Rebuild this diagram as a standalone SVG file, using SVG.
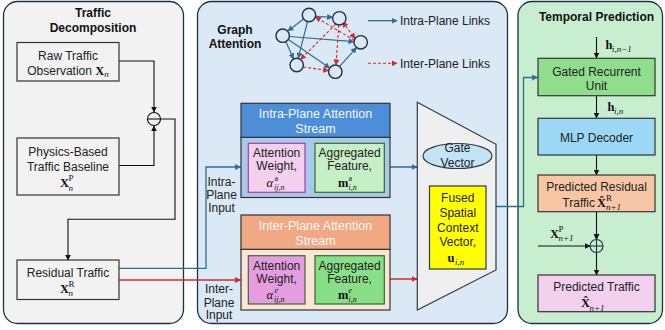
<svg xmlns="http://www.w3.org/2000/svg" width="665" height="330" viewBox="0 0 665 330">
  <style>
    .panel { stroke: #1d3347; stroke-width: 1.3; }
    .box { stroke: #333; stroke-width: 1.2; }
    .t { font-family: "Liberation Sans", Arial, sans-serif; font-size: 12px; fill: #222; text-anchor: middle; }
    .tl { font-family: "Liberation Sans", Arial, sans-serif; font-size: 12px; fill: #222; }
    .title { font-family: "Liberation Sans", Arial, sans-serif; font-size: 12px; font-weight: bold; fill: #111; text-anchor: middle; }
    .hdr { font-family: "Liberation Sans", Arial, sans-serif; font-size: 12.5px; fill: #f4f7fb; text-anchor: middle; }
    .mb { font-family: "Liberation Serif", "Times New Roman", serif; font-weight: bold; font-size: 12.5px; fill: #111; }
    .mi { font-family: "Liberation Serif", "Times New Roman", serif; font-style: italic; font-size: 12.5px; fill: #111; }
    .ms { font-family: "Liberation Serif", "Times New Roman", serif; font-size: 9px; fill: #111; }
    .msi { font-family: "Liberation Serif", "Times New Roman", serif; font-style: italic; font-size: 9px; fill: #111; }
    .sm { font-size: 8px; }
    .blue { stroke: #2e6e96; stroke-width: 1.3; fill: none; }
    .red { stroke: #d42a2a; stroke-width: 1.3; fill: none; }
    .blk { stroke: #111; stroke-width: 1.1; fill: none; }
    .gnode { fill: #dbe8f5; stroke: #1d3347; stroke-width: 1.4; }
    .gblue { stroke: #2e6e96; stroke-width: 1.2; fill: none; marker-end: url(#ab); }
    .gred { stroke: #d42a2a; stroke-width: 1.1; fill: none; stroke-dasharray: 3 2; }
  </style>
  <defs>
    <marker id="ab" viewBox="0 0 10 10" refX="9" refY="5" markerWidth="6" markerHeight="6" markerUnits="userSpaceOnUse" orient="auto-start-reverse">
      <path d="M0,0 L10,5 L0,10 z" fill="#2e6e96"/>
    </marker>
    <marker id="ar" viewBox="0 0 10 10" refX="9" refY="5" markerWidth="6" markerHeight="6" markerUnits="userSpaceOnUse" orient="auto-start-reverse">
      <path d="M0,0 L10,5 L0,10 z" fill="#d42a2a"/>
    </marker>
    <marker id="ak" viewBox="0 0 10 10" refX="9" refY="5" markerWidth="6" markerHeight="6" markerUnits="userSpaceOnUse" orient="auto-start-reverse">
      <path d="M0,0 L10,5 L0,10 z" fill="#111"/>
    </marker>
  </defs>

  <!-- Panels -->
  <g id="panel-decomposition">
    <rect class="panel" x="3.5" y="1.5" width="180" height="322" rx="14" fill="#f2f2f2"/>
    <text class="title" x="93" y="17">Traffic</text>
    <text class="title" x="93" y="31.5">Decomposition</text>
  </g>
  <g id="panel-attention">
    <rect class="panel" x="197.5" y="1.5" width="310" height="322" rx="14" fill="#dbe8f5"/>
    <text class="title" x="235" y="34">Graph</text>
    <text class="title" x="235" y="48">Attention</text>
  </g>
  <g id="panel-temporal">
    <rect class="panel" x="518" y="1.5" width="144.5" height="322" rx="14" fill="#c8eed0"/>
    <text class="title" x="596.5" y="20.5">Temporal Prediction</text>
  </g>

  <!-- Example graph with intra- and inter-plane links -->
  <g id="graph-example">
    <line class="gblue" x1="315.5" y1="16.3" x2="332.6" y2="17.3"/>
    <line class="gblue" x1="303.5" y1="19" x2="288" y2="31"/>
    <line class="gblue" x1="307.5" y1="21.6" x2="298.2" y2="58.2"/>
    <line class="gblue" x1="285.8" y1="41.6" x2="293.5" y2="58.8"/>
    <line class="gblue" x1="289.4" y1="36.5" x2="353.9" y2="41.6"/>
    <line class="gblue" x1="288.4" y1="39.5" x2="329.6" y2="68"/>
    <line class="gblue" x1="339.6" y1="66.3" x2="356.4" y2="47.8"/>
    <line class="gred" x1="342.5" y1="21.8" x2="355" y2="38.5" marker-start="url(#ar)" marker-end="url(#ar)"/>
    <line class="gred" x1="354.3" y1="40.3" x2="315.5" y2="17" marker-end="url(#ar)"/>
    <line class="gred" x1="335.8" y1="24" x2="300.6" y2="59.3" marker-end="url(#ar)"/>
    <line class="gred" x1="338.8" y1="25" x2="336" y2="64.8" marker-end="url(#ar)"/>
    <line class="gred" x1="303.2" y1="67" x2="328.5" y2="70.6" marker-end="url(#ar)"/>
    <circle class="gnode" cx="309" cy="15" r="6.7"/>
    <circle class="gnode" cx="339.3" cy="18.3" r="6.7"/>
    <circle class="gnode" cx="282.7" cy="35.7" r="6.7"/>
    <circle class="gnode" cx="360.7" cy="42.3" r="6.7"/>
    <circle class="gnode" cx="296.7" cy="65" r="6.7"/>
    <circle class="gnode" cx="335.3" cy="71.7" r="6.7"/>
  </g>
  <g id="graph-legend">
    <line class="blue" x1="368" y1="20.7" x2="397" y2="20.7" marker-end="url(#ab)"/>
    <text class="tl" x="400" y="25">Intra-Plane Links</text>
    <line class="gred" x1="368" y1="63.3" x2="397" y2="63.3" marker-end="url(#ar)"/>
    <text class="tl" x="400" y="67.5">Inter-Plane Links</text>
  </g>

  <!-- Connectors -->
  <g id="connectors">
    <polyline class="blk" points="119,61 154,61 154,112" marker-end="url(#ak)"/>
    <polyline class="blk" points="119,165.5 154,165.5 154,126" marker-end="url(#ak)"/>
    <polyline class="blk" points="160.5,119 175,119 175,219.3 68,219.3 68,260" marker-end="url(#ak)"/>
    <polyline class="blue" points="119,268.3 206,268.3 206,167 240.5,167" marker-end="url(#ab)"/>
    <polyline class="red" points="119,280 240.5,280" marker-end="url(#ar)"/>
    <line class="blue" x1="305" y1="167" x2="314.5" y2="167" marker-end="url(#ab)"/>
    <line class="red" x1="305" y1="279.5" x2="314.5" y2="279.5" marker-end="url(#ar)"/>
    <line class="blue" x1="384" y1="167" x2="417" y2="167" marker-end="url(#ab)"/>
    <line class="red" x1="384" y1="279" x2="417" y2="279" marker-end="url(#ar)"/>
    <line class="blk" x1="457.5" y1="168.5" x2="457.5" y2="185.5" marker-end="url(#ak)"/>
    <polyline class="blue" points="496,206.5 523.5,206.5 523.5,77.5 537.5,77.5" marker-end="url(#ab)"/>
    <line class="blk" x1="596.5" y1="37" x2="596.5" y2="58" marker-end="url(#ak)"/>
    <line class="blk" x1="596.5" y1="96" x2="596.5" y2="118" marker-end="url(#ak)"/>
    <line class="blk" x1="596.5" y1="155" x2="596.5" y2="175" marker-end="url(#ak)"/>
    <line class="blk" x1="596.5" y1="212" x2="596.5" y2="239.5" marker-end="url(#ak)"/>
    <line class="blk" x1="538" y1="246" x2="590" y2="246" marker-end="url(#ak)"/>
    <line class="blk" x1="596.5" y1="252.5" x2="596.5" y2="275" marker-end="url(#ak)"/>
  </g>

  <!-- Traffic decomposition -->
  <g id="raw-traffic">
    <rect class="box" x="17" y="42.5" width="102" height="38.5" fill="#f2f2f2"/>
    <text class="t" x="68" y="59.5">Raw Traffic</text>
    <text class="t" x="68" y="74.5">Observation <tspan class="mb">X</tspan><tspan class="msi" dy="2.5">n</tspan></text>
  </g>
  <g id="subtract">
    <circle cx="154" cy="119" r="6.5" fill="#f2f2f2" stroke="#111" stroke-width="1.1"/>
    <line x1="147.5" y1="119" x2="160.5" y2="119" stroke="#111" stroke-width="1.1"/>
  </g>
  <g id="physics-baseline">
    <rect class="box" x="17" y="138" width="102" height="57" fill="#f2f2f2"/>
    <text class="t" x="68" y="156">Physics-Based</text>
    <text class="t" x="68" y="170.5">Traffic Baseline</text>
    <text class="mb" x="60" y="187">X</text>
    <text class="ms" x="68.5" y="181">P</text>
    <text class="msi" x="68.5" y="190.5">n</text>
  </g>
  <g id="residual-traffic">
    <rect class="box" x="17" y="260" width="102" height="39.5" fill="#f2f2f2"/>
    <text class="t" x="68" y="276.5">Residual Traffic</text>
    <text class="mb" x="60" y="292.5">X</text>
    <text class="ms" x="68.5" y="286.5">R</text>
    <text class="msi" x="68.5" y="296">n</text>
  </g>

  <!-- Graph attention -->
  <g id="input-labels">
    <text class="t" x="221.5" y="185.5">Intra-</text>
    <text class="t" x="221.5" y="199">Plane</text>
    <text class="t" x="221.5" y="212">Input</text>
    <text class="t" x="219" y="293">Inter-</text>
    <text class="t" x="219" y="306.5">Plane</text>
    <text class="t" x="219" y="319">Input</text>
  </g>
  <g id="intra-stream">
    <rect class="box" x="241" y="137.3" width="149" height="60.2" fill="#a9c9ea"/>
    <rect class="box" x="241" y="103.3" width="149" height="34" fill="#4c8fd8"/>
    <text class="hdr" x="315.5" y="117.5">Intra-Plane Attention</text>
    <text class="hdr" x="315.5" y="132.5">Stream</text>
  </g>
  <g id="intra-weight">
    <rect x="248.3" y="143.3" width="56.7" height="49" fill="#f2d0ee" stroke="#a6429e" stroke-width="1.2"/>
    <text class="t" x="276.6" y="157">Attention</text>
    <text class="t" x="276.6" y="170.3">Weight,</text>
    <text class="mi" x="266.5" y="186.5">α</text>
    <text class="ms sm" x="274.5" y="180.7">a</text>
    <text class="msi sm" x="274" y="189.7">ij,n</text>
  </g>
  <g id="intra-feature">
    <rect x="315" y="143.3" width="69.3" height="49" fill="#c6efc6" stroke="#2f6b2f" stroke-width="1.2"/>
    <text class="t" x="349.6" y="157">Aggregated</text>
    <text class="t" x="349.6" y="170.3">Feature,</text>
    <text class="mb" x="338" y="186.5">m</text>
    <text class="ms sm" x="348.5" y="180.7">a</text>
    <text class="msi sm" x="348.5" y="189.7">i,n</text>
  </g>
  <g id="inter-stream">
    <rect class="box" x="241" y="249.3" width="149" height="60.7" fill="#fce4d6"/>
    <rect class="box" x="241" y="215" width="149" height="34.3" fill="#f1a983"/>
    <text class="hdr" x="315.5" y="230">Inter-Plane Attention</text>
    <text class="hdr" x="315.5" y="245">Stream</text>
  </g>
  <g id="inter-weight">
    <rect x="248.3" y="255.7" width="56.7" height="48.3" fill="#e49ddf" stroke="#3a6b3a" stroke-width="1.2"/>
    <text class="t" x="276.6" y="269.5">Attention</text>
    <text class="t" x="276.6" y="282.8">Weight,</text>
    <text class="mi" x="266.5" y="299">α</text>
    <text class="msi sm" x="274.5" y="293.2">e</text>
    <text class="msi sm" x="274" y="302.2">ij,n</text>
  </g>
  <g id="inter-feature">
    <rect x="315" y="255.7" width="69.3" height="48.3" fill="#88df88" stroke="#2f6b2f" stroke-width="1.2"/>
    <text class="t" x="349.6" y="269.5">Aggregated</text>
    <text class="t" x="349.6" y="282.8">Feature,</text>
    <text class="mb" x="338" y="299">m</text>
    <text class="msi sm" x="348.5" y="293.2">e</text>
    <text class="msi sm" x="348.5" y="302.2">i,n</text>
  </g>
  <g id="fusion-gate">
    <polygon points="417.3,102.3 496,144.3 496,270 417.3,310" fill="#efefef" stroke="#2b3b4a" stroke-width="1.2"/>
  </g>
  <g id="gate-vector">
    <ellipse cx="457.5" cy="156" rx="34.5" ry="12.5" fill="#c2e4f4" stroke="#2b3b4a" stroke-width="1.2"/>
    <text class="t" x="457.5" y="152">Gate</text>
    <text class="t" x="457.5" y="166.5">Vector</text>
  </g>
  <g id="fused-context">
    <rect x="429.5" y="186" width="56.5" height="83" fill="#ffff00" stroke="#2b3b4a" stroke-width="1.2"/>
    <text class="t" x="457.8" y="202">Fused</text>
    <text class="t" x="457.8" y="216.8">Spatial</text>
    <text class="t" x="457.8" y="231.6">Context</text>
    <text class="t" x="457.8" y="246.4">Vector,</text>
    <text class="mb" x="447.5" y="262">u</text>
    <text class="msi" x="455" y="265">i,n</text>
  </g>

  <!-- Temporal prediction -->
  <g id="hidden-labels">
    <text class="mb" x="605.5" y="49">h</text>
    <text class="msi" x="612" y="52">i,n−1</text>
    <text class="mb" x="607.5" y="111">h</text>
    <text class="msi" x="614" y="114">i,n</text>
  </g>
  <g id="gru">
    <rect class="box" x="538" y="58.3" width="117" height="37.4" fill="#8ede8c"/>
    <text class="t" x="596.5" y="76">Gated Recurrent</text>
    <text class="t" x="596.5" y="90">Unit</text>
  </g>
  <g id="mlp-decoder">
    <rect class="box" x="538" y="118.3" width="117" height="36.7" fill="#9bd8f5"/>
    <text class="t" x="596.5" y="141.5">MLP Decoder</text>
  </g>
  <g id="predicted-residual">
    <rect class="box" x="538" y="175" width="117" height="36.7" fill="#f7c7a5"/>
    <text class="t" x="596.5" y="190.5">Predicted Residual</text>
    <text class="tl" x="595" y="206.5" text-anchor="end">Traffic</text>
    <text class="mb" x="597" y="206.5">X̂</text>
    <text class="ms" x="606" y="200.5">R</text>
    <text class="msi" x="606" y="210">n+1</text>
  </g>
  <g id="add">
    <circle cx="596.5" cy="246" r="6.5" fill="#c8eed0" stroke="#1d3347" stroke-width="1.1"/>
    <line x1="590" y1="246" x2="603" y2="246" stroke="#1d3347" stroke-width="1.1"/>
    <line x1="596.5" y1="239.5" x2="596.5" y2="252.5" stroke="#1d3347" stroke-width="1.1"/>
    <text class="mb" x="550" y="237.5">X</text>
    <text class="ms" x="558.5" y="231.5">P</text>
    <text class="msi" x="558.5" y="241">n+1</text>
  </g>
  <g id="predicted-traffic">
    <rect class="box" x="538" y="275" width="117" height="36.7" fill="#f2d0ee"/>
    <text class="t" x="596.5" y="290.5">Predicted Traffic</text>
    <text class="mb" x="581" y="307">X̂</text>
    <text class="msi" x="589.5" y="310.5">n+1</text>
  </g>
</svg>
